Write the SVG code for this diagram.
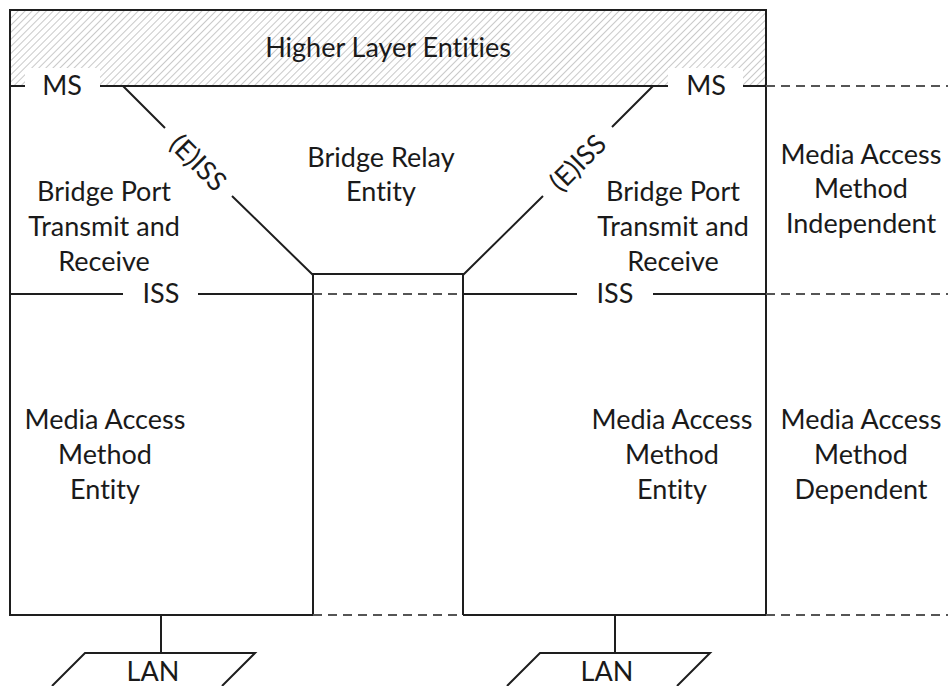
<svg xmlns="http://www.w3.org/2000/svg" width="948" height="686" viewBox="0 0 948 686">
  <defs>
    <pattern id="hatch" width="5" height="5" patternUnits="userSpaceOnUse" patternTransform="rotate(45)">
      <rect width="5" height="5" fill="#ffffff"/>
      <line x1="0" y1="0" x2="0" y2="5" stroke="#c0c0c0" stroke-width="1.7"/>
    </pattern>
  </defs>
  <style>
    .t { font-family: Lato, "Open Sans", sans-serif; font-size: 27px; fill: #1a1a1a; text-anchor: middle; font-variant-ligatures: none; font-feature-settings: "liga" 0; }
    .ln { stroke: #1e1e1e; stroke-width: 2; fill: none; stroke-linecap: butt; }
    .ds { stroke: #555555; stroke-width: 1.8; fill: none; stroke-dasharray: 9 6; }
  </style>
  <rect width="948" height="686" fill="#ffffff"/>

  <g id="higher-layer">
    <rect x="10" y="10" width="756" height="76" fill="url(#hatch)" stroke="none"/>
    <rect x="25" y="68" width="75" height="19" fill="#ffffff"/>
    <rect x="668" y="68" width="75" height="19" fill="#ffffff"/>
    <path class="ln" d="M10,86 V10 H766 V86"/>
    <text class="t" x="388" y="57">Higher Layer Entities</text>
  </g>

  <g id="connectors">
    <path class="ln" d="M10,86 H25 M100,86 H668 M743,86 H766"/>
    <path class="ln" d="M10,86 V615 H313 M463,615 H766 V86"/>
    <path class="ln" d="M313,615 V274 H463 V615"/>
    <path class="ln" d="M123,86 L165,128 M232,196 L313,275"/>
    <path class="ln" d="M653,86 L612,127 M543,196 L463,275"/>
    <path class="ln" d="M10,294 H123 M198,294 H313 M463,294 H577 M653,294 H766"/>
    <path class="ds" d="M313,294 H463 M766,86 H948 M766,294 H948 M313,615 H463 M766,615 H948"/>
    <path class="ln" d="M161,615 V653 M615,615 V653"/>
  </g>

  <g id="ms-left"><text class="t" x="62" y="95">MS</text></g>
  <g id="ms-right"><text class="t" x="706" y="95">MS</text></g>
  <g id="eiss-left"><text class="t" x="199" y="162" dominant-baseline="central" transform="rotate(45 199 162)">(E)ISS</text></g>
  <g id="eiss-right"><text class="t" x="577" y="162" dominant-baseline="central" transform="rotate(-45 577 162)">(E)ISS</text></g>
  <g id="iss-left"><text class="t" x="161" y="303">ISS</text></g>
  <g id="iss-right"><text class="t" x="615" y="303">ISS</text></g>

  <g id="bridge-relay">
    <text class="t" x="381" y="167">Bridge Relay</text>
    <text class="t" x="381" y="201">Entity</text>
  </g>
  <g id="port-left">
    <text class="t" x="104" y="201">Bridge Port</text>
    <text class="t" x="104" y="236">Transmit and</text>
    <text class="t" x="104" y="271">Receive</text>
  </g>
  <g id="port-right">
    <text class="t" x="673" y="201">Bridge Port</text>
    <text class="t" x="673" y="236">Transmit and</text>
    <text class="t" x="673" y="271">Receive</text>
  </g>
  <g id="independent">
    <text class="t" x="861" y="164">Media Access</text>
    <text class="t" x="861" y="198">Method</text>
    <text class="t" x="861" y="233">Independent</text>
  </g>
  <g id="mac-left">
    <text class="t" x="105" y="429">Media Access</text>
    <text class="t" x="105" y="464">Method</text>
    <text class="t" x="105" y="499">Entity</text>
  </g>
  <g id="mac-right">
    <text class="t" x="672" y="429">Media Access</text>
    <text class="t" x="672" y="464">Method</text>
    <text class="t" x="672" y="499">Entity</text>
  </g>
  <g id="dependent">
    <text class="t" x="861" y="429">Media Access</text>
    <text class="t" x="861" y="464">Method</text>
    <text class="t" x="861" y="499">Dependent</text>
  </g>
  <g id="lan-left">
    <path class="ln" d="M52,686 L85,653 H255 L222,686"/>
    <text class="t" x="153" y="681">LAN</text>
  </g>
  <g id="lan-right">
    <path class="ln" d="M507,686 L540,653 H710 L677,686"/>
    <text class="t" x="607" y="681">LAN</text>
  </g>
</svg>
